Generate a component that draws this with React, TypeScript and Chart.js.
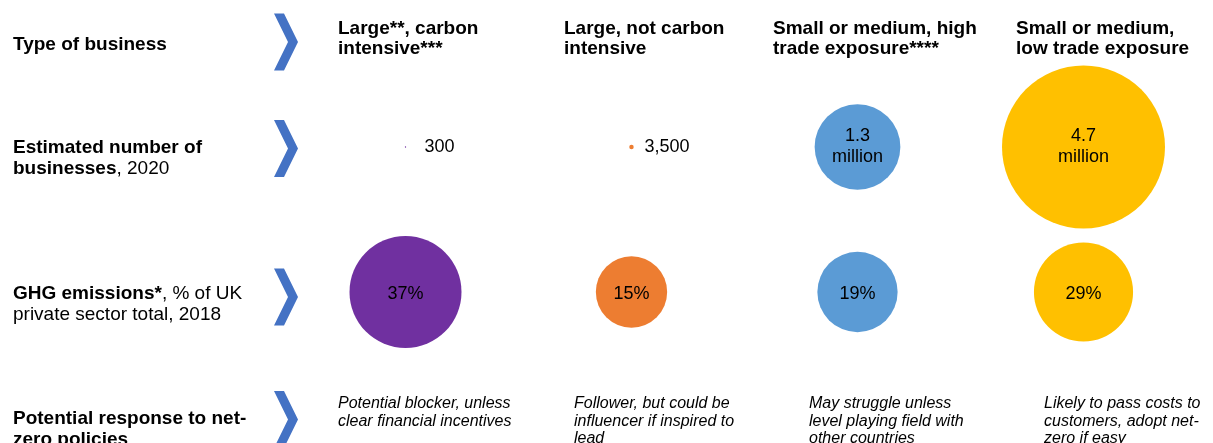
import React, { useEffect, useRef } from "react";
import { Chart, registerables } from "chart.js";

Chart.register(...registerables);

// ---------- data ----------
const categoryLines: string[][] = [
  ["Large**, carbon", "intensive***"],
  ["Large, not carbon", "intensive"],
  ["Small or medium, high", "trade exposure****"],
  ["Small or medium,", "low trade exposure"],
];
const businessCounts = [300, 3500, 1300000, 4700000];
const businessCountLabels: string[][] = [["300"], ["3,500"], ["1.3", "million"], ["4.7", "million"]];
const emissionShares = [37, 15, 19, 29];
const emissionLabels = ["37%", "15%", "19%", "29%"];
const responseLines: string[][] = [
  ["Potential blocker, unless", "clear financial incentives"],
  ["Follower, but could be", "influencer if inspired to", "lead"],
  ["May struggle unless", "level playing field with", "other countries"],
  ["Likely to pass costs to", "customers, adopt net-", "zero if easy"],
];
const seriesColors = ["#7030A0", "#ED7D31", "#5B9BD5", "#FFC000"];
// row label segments: [text, bold]
const rowLabels: [string, boolean][][][] = [
  [[["Type of business", true]]],
  [[["Estimated number of", true]], [["businesses", true], [", 2020", false]]],
  [[["GHG emissions*", true], [", % of UK", false]], [["private sector total, 2018", false]]],
  [[["Potential response to net-", true]], [["zero policies", true]]],
];

// ---------- layout (pixels) ----------
const FONT = '"Liberation Sans", Arial, Helvetica, sans-serif';
const W = 1213;
const H = 443;
const COL0 = 405.5;
const COL_STEP = 226;
const ROW1 = 147;
const ROW_STEP = 145;
const COUNT_RMAX = 81.5;
const EMIS_RMAX = 56;

const maxCount = Math.max(...businessCounts);
const maxEmis = Math.max(...emissionShares);

const overlayPlugin = {
  id: "infographicOverlay",
  afterDatasetsDraw(chart: any) {
    const ctx: CanvasRenderingContext2D = chart.ctx;
    ctx.save();
    ctx.fillStyle = "#000";
    ctx.textAlign = "left";
    ctx.textBaseline = "alphabetic";

    // row labels
    const rowBaselines = [[50], [153, 174], [299, 320], [424, 445]];
    rowLabels.forEach((lines, r) => {
      lines.forEach((segs, li) => {
        let x = 13;
        segs.forEach(([t, b]) => {
          ctx.font = `${b ? "bold " : ""}19px ${FONT}`;
          ctx.fillText(t, x, rowBaselines[r][li]);
          x += ctx.measureText(t).width;
        });
      });
    });

    // chevrons
    const chevronCenters = [42, 148.5, 297, 419.5];
    ctx.fillStyle = "#4472C4";
    chevronCenters.forEach((cy) => {
      const h = 28.5;
      ctx.beginPath();
      ctx.moveTo(274, cy - h);
      ctx.lineTo(284, cy - h);
      ctx.lineTo(298, cy);
      ctx.lineTo(284, cy + h);
      ctx.lineTo(274, cy + h);
      ctx.lineTo(288, cy);
      ctx.closePath();
      ctx.fill();
    });

    // column headers
    ctx.fillStyle = "#000";
    const headerX = [338, 564, 773, 1016];
    const headerBaselines = [34, 54];
    ctx.font = `bold 19px ${FONT}`;
    categoryLines.forEach((lines, i) => {
      lines.forEach((t, li) => ctx.fillText(t, headerX[i], headerBaselines[li]));
    });

    // responses
    const responseX = [338, 574, 809, 1044];
    const responseBaselines = [408, 425.5, 443];
    ctx.font = `italic 16px ${FONT}`;
    responseLines.forEach((lines, i) => {
      lines.forEach((t, li) => ctx.fillText(t, responseX[i], responseBaselines[li]));
    });

    // count labels
    ctx.font = `18px ${FONT}`;
    const countMeta = chart.getDatasetMeta(0);
    const outsideOffsets = [19, 13];
    countMeta.data.forEach((el: any, i: number) => {
      const lines = businessCountLabels[i];
      if (lines.length === 1) {
        ctx.textAlign = "left";
        ctx.textBaseline = "middle";
        ctx.fillText(lines[0], el.x + (outsideOffsets[i] ?? 14), el.y);
      } else {
        ctx.textAlign = "center";
        ctx.textBaseline = "alphabetic";
        ctx.fillText(lines[0], el.x, el.y - 6);
        ctx.fillText(lines[1], el.x, el.y + 15);
      }
    });

    // emission labels
    const emisMeta = chart.getDatasetMeta(1);
    ctx.textAlign = "center";
    ctx.textBaseline = "middle";
    emisMeta.data.forEach((el: any, i: number) => {
      ctx.fillText(emissionLabels[i], el.x, el.y + 2);
    });

    ctx.restore();
  },
};

export default function App() {
  const canvasRef = useRef<HTMLCanvasElement | null>(null);

  useEffect(() => {
    const canvas = canvasRef.current;
    if (!canvas) return;
    const chart = new Chart(canvas, {
      type: "bubble",
      data: {
        datasets: [
          {
            label: "Estimated number of businesses, 2020",
            data: businessCounts.map((v, i) => ({ x: i, y: 1, r: COUNT_RMAX * Math.sqrt(v / maxCount) })),
            backgroundColor: seriesColors,
            borderWidth: 0,
            clip: false,
          },
          {
            label: "GHG emissions, % of UK private sector total, 2018",
            data: emissionShares.map((v, i) => ({ x: i, y: 2, r: EMIS_RMAX * Math.sqrt(v / maxEmis) })),
            backgroundColor: seriesColors,
            borderWidth: 0,
            clip: false,
          },
        ],
      },
      options: {
        animation: false,
        responsive: false,
        events: [],
        layout: { padding: 0, autoPadding: false },
        plugins: { legend: { display: false }, tooltip: { enabled: false } },
        scales: {
          x: {
            type: "linear",
            display: false,
            bounds: "data",
            min: -COL0 / COL_STEP,
            max: (W - COL0) / COL_STEP,
          },
          y: {
            type: "linear",
            display: false,
            bounds: "data",
            reverse: true,
            min: 1 - ROW1 / ROW_STEP,
            max: 1 + (H - ROW1) / ROW_STEP,
          },
        },
      },
      plugins: [overlayPlugin],
    });
    return () => chart.destroy();
  }, []);

  return (
    <div style={{ position: "absolute", left: 0, top: 0, width: W, height: H, background: "#fff" }}>
      <canvas ref={canvasRef} width={W} height={H} style={{ display: "block" }} />
    </div>
  );
}
